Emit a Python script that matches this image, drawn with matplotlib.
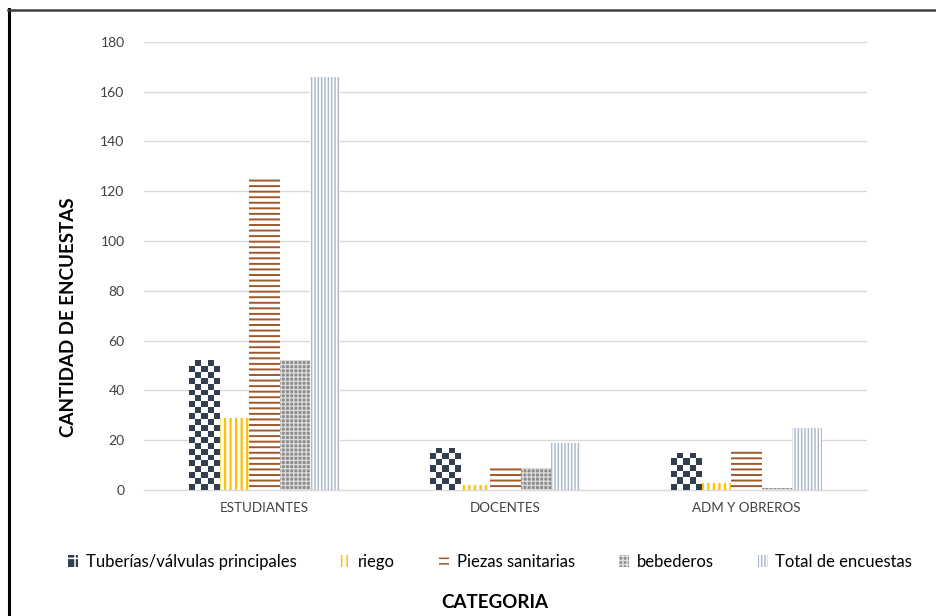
import matplotlib
matplotlib.use("Agg")
import matplotlib.pyplot as plt
import numpy as np
from matplotlib.colors import ListedColormap
from matplotlib.patches import Patch
from matplotlib.lines import Line2D

categorias = ["ESTUDIANTES", "DOCENTES", "ADM Y OBREROS"]
series = ["Tuberías/válvulas principales", "riego", "Piezas sanitarias",
          "bebederos", "Total de encuestas"]
tuberias = [52, 17, 15]
riego = [29, 2, 3]
piezas = [126, 10, 16]
bebederos = [52, 9, 1]
total = [166, 19, 25]

plt.rcParams['font.family'] = ['Lato', 'DejaVu Sans']

# estilo de cada serie: (face, hatch, color del hatch, grosor)
estilos = [
    ("white", None, "#333F50", 1.0),
    ("white", "|||", "#FFC000", 1.6),
    ("white", "---", "#A0582A", 1.4),
    ("#8C8C8C", "++++", "#DCDCDC", 0.9),
    ("white", "|||||", "#ADB9CA", 1.1),
]
valores = [tuberias, riego, piezas, bebederos, total]

fig = plt.figure(figsize=(9.36, 6.16), dpi=100)
ax = fig.add_axes([144/936, 1-490/616, 723/936, (490-41.7)/616])

x = np.arange(len(categorias))
w = 0.126
contenedores = []
for i, (vals, (fc, h, hc, lw)) in enumerate(zip(valores, estilos)):
    plt.rcParams['hatch.linewidth'] = lw
    off = (i - 2) * w
    c = ax.bar(x + off, vals, w, facecolor=fc, edgecolor=hc, linewidth=0,
               hatch=h, zorder=2)
    contenedores.append(c)

ax.set_xlim(-0.5, 2.5)
ax.set_ylim(0, 180)
ax.set_yticks(np.arange(0, 181, 20))
ax.set_xticks(x)
ax.set_xticklabels(categorias, fontsize=9.6, color="#404040")
ax.tick_params(axis='y', labelsize=10, colors="#404040", length=0, pad=14)
ax.tick_params(axis='x', length=0, pad=9)
ax.grid(axis='y', color="#D9D9D9", linewidth=1, zorder=0)
ax.set_axisbelow(True)
for s in ["top", "right", "left"]:
    ax.spines[s].set_visible(False)
ax.spines["bottom"].set_color("#D9D9D9")
ax.spines["bottom"].set_linewidth(1)

# tablero de ajedrez para tuberías
fig.canvas.draw()
cmap = ListedColormap(["white", "#333F50"])
for bar in contenedores[0]:
    bx, by = bar.get_x(), bar.get_y()
    bw, bh = bar.get_width(), bar.get_height()
    p0 = ax.transData.transform((bx, by))
    p1 = ax.transData.transform((bx + bw, by + bh))
    ncol = max(1, int(round((p1[0] - p0[0]) / 6)))
    nrow = max(1, int(round((p1[1] - p0[1]) / 6)))
    tablero = np.indices((nrow, ncol)).sum(axis=0) % 2
    im = ax.imshow(tablero, extent=(bx, bx + bw, by, by + bh), aspect='auto',
                   cmap=cmap, interpolation='nearest', zorder=3)
    im.set_clip_path(bar)
ax.set_xlim(-0.5, 2.5)
ax.set_ylim(0, 180)

ax.set_ylabel("CANTIDAD DE ENCUESTAS", fontsize=13.5, fontweight='bold',
              color="black")
ax.yaxis.set_label_coords(-0.093, 0.386)

fig.text(495/936, 1-602/616, "CATEGORIA", fontsize=13.5, fontweight='bold',
         ha='center', va='center')

handles = []
for (fc, h, hc, lw) in estilos:
    if h is None:
        handles.append(Patch(facecolor="#333F50", edgecolor="white",
                             hatch="+", linewidth=0))
    else:
        handles.append(Patch(facecolor=fc, edgecolor=hc, hatch=h, linewidth=0))
fig.legend(handles, series, loc='center', ncol=5,
           bbox_to_anchor=(490/936, 1-562/616), frameon=False, fontsize=12,
           handlelength=0.6, handleheight=0.75, handletextpad=0.45,
           columnspacing=2.65)

# borde del área del gráfico
fig.add_artist(Line2D([9/936, 9/936], [0, 1-9/616], color="black",
                      linewidth=2.2, transform=fig.transFigure))
fig.add_artist(Line2D([8/936, 1], [1-10/616, 1-10/616], color="#404040",
                      linewidth=1.8, transform=fig.transFigure))

fig.savefig("out.png", dpi=100)
